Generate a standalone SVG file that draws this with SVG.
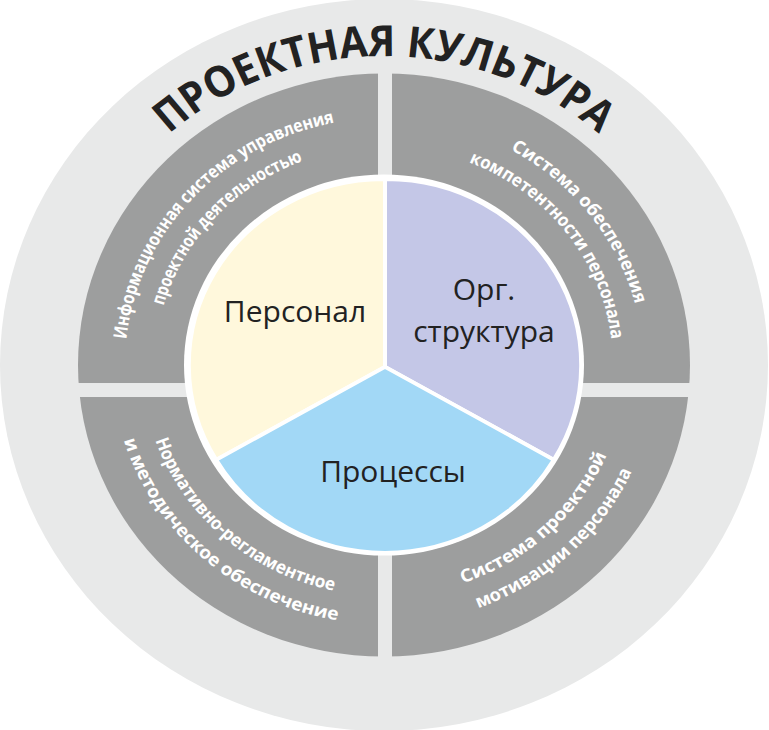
<svg xmlns="http://www.w3.org/2000/svg" width="769" height="730" viewBox="0 0 769 730">
<style>
.q{font-family:"Open Sans","Liberation Sans",sans-serif;font-weight:700;font-size:18.5px;fill:#fff;text-anchor:middle}
.t{font-family:"Open Sans","Liberation Sans",sans-serif;font-weight:700;font-size:45px;fill:#222;text-anchor:middle}
.c{font-family:"Open Sans","Liberation Sans",sans-serif;font-size:30px;fill:#222;text-anchor:middle}
</style>
<defs>
<path id="pt" d="M -304.5 -110.8 A 324 324 0 0 1 304.5 -110.8"/>
<path id="tl1" d="M -258.8 -11.3 A 259 259 0 0 1 -33.8 -256.8"/>
<path id="tl2" d="M -228.8 -10 A 229 229 0 0 1 -29.9 -227"/>
<path id="tr1" d="M 56 -252.9 A 259 259 0 0 1 258.8 11.3"/>
<path id="tr2" d="M 49.6 -223.6 A 229 229 0 0 1 228.8 10"/>
<path id="bl1" d="M -239.3 35.8 A 242 242 0 0 0 -6.3 241.9"/>
<path id="bl2" d="M -269 40.2 A 272 272 0 0 0 -7.1 271.9"/>
<path id="br1" d="M 12.7 241.7 A 242 242 0 0 0 240.2 29.5"/>
<path id="br2" d="M 14.2 271.6 A 272 272 0 0 0 270 33.1"/>
</defs>
<g transform="translate(384,365) scale(1,0.953)">
<g id="background">
<circle r="384" fill="#e8e9e9"/>
<circle r="306" fill="#9d9e9e"/>
<rect x="-6" y="-330" width="14" height="660" fill="#e8e9e9"/>
<rect x="-330" y="18.9" width="660" height="14.7" fill="#e8e9e9"/>
</g>
<g id="title"><text class="t"><textPath href="#pt" startOffset="50%" textLength="470" lengthAdjust="spacingAndGlyphs">ПРОЕКТНАЯ КУЛЬТУРА</textPath></text></g>
<g id="q-info"><text class="q"><textPath href="#tl1" startOffset="50%" textLength="330" lengthAdjust="spacingAndGlyphs">Информационная система управления</textPath></text><text class="q"><textPath href="#tl2" startOffset="50%" textLength="214" lengthAdjust="spacingAndGlyphs">проектной деятельностью</textPath></text></g>
<g id="q-comp"><text class="q"><textPath href="#tr1" startOffset="50%" textLength="210" lengthAdjust="spacingAndGlyphs">Система обеспечения</textPath></text><text class="q"><textPath href="#tr2" startOffset="50%" textLength="246" lengthAdjust="spacingAndGlyphs">компетентности персонала</textPath></text></g>
<g id="q-norm"><text class="q"><textPath href="#bl1" startOffset="50%" textLength="249" lengthAdjust="spacingAndGlyphs">Нормативно-регламентное</textPath></text><text class="q"><textPath href="#bl2" startOffset="50%" textLength="300" lengthAdjust="spacingAndGlyphs">и методическое обеспечение</textPath></text></g>
<g id="q-motiv"><text class="q"><textPath href="#br1" startOffset="50%" textLength="203" lengthAdjust="spacingAndGlyphs">Система проектной</textPath></text><text class="q"><textPath href="#br2" startOffset="50%" textLength="216" lengthAdjust="spacingAndGlyphs">мотивации персонала</textPath></text></g>
<g id="pie" stroke="#fff" stroke-width="4" stroke-linejoin="round">
<circle r="200" fill="#fff" stroke="none"/>
<path d="M 1 2 L 1 -195 A 195 195 0 0 0 -167.9 99.5 Z" fill="#fff8dc"/>
<path d="M 1 2 L 1 -195 A 195 195 0 0 1 169.9 99.5 Z" fill="#c4c7e7"/>
<path d="M 1 2 L -167.9 99.5 A 195 195 0 0 0 169.9 99.5 Z" fill="#a2d8f6"/>
</g>
</g>
<g id="labels">
<text class="c" x="295" y="322">Персонал</text>
<text class="c" x="484" y="300">Орг.</text>
<text class="c" x="484" y="342">структура</text>
<text class="c" x="393" y="482">Процессы</text>
</g>
</svg>
